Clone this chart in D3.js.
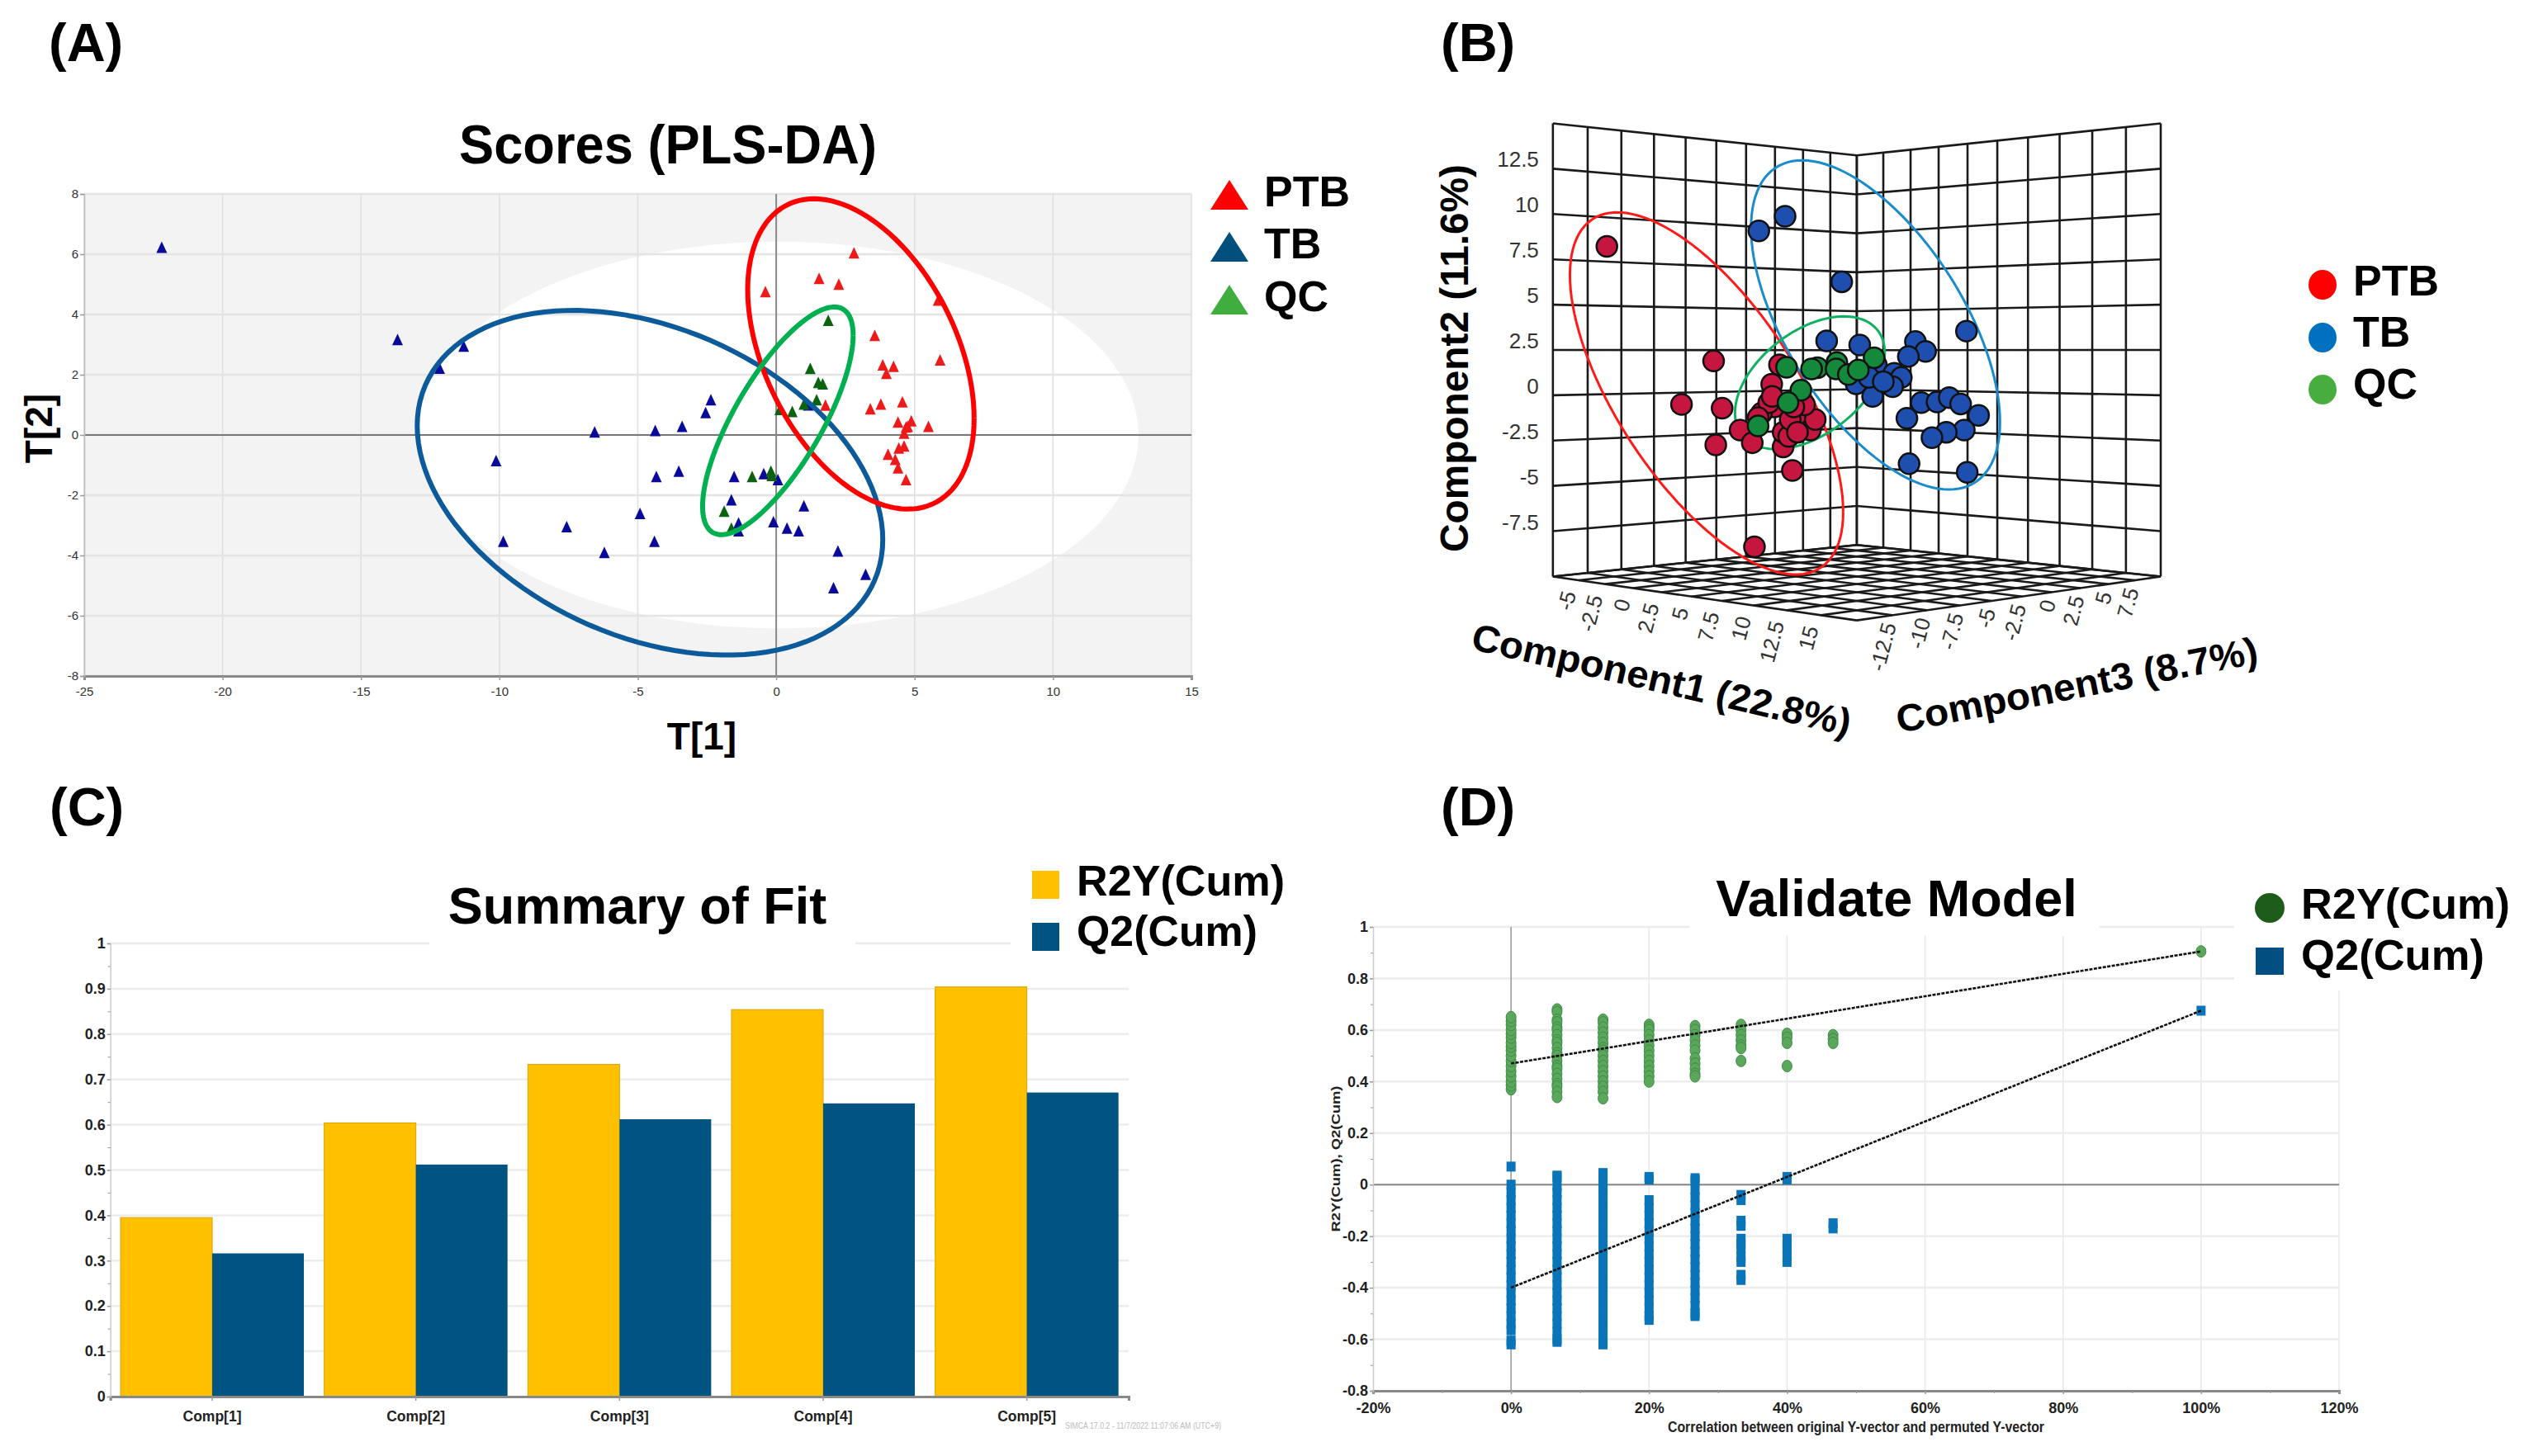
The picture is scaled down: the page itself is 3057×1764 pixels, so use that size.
<!DOCTYPE html>
<html><head><meta charset="utf-8">
<script src="https://cdn.jsdelivr.net/npm/d3@7"></script>
<style>html,body{margin:0;padding:0;background:#fff}svg{display:block}text{font-family:"Liberation Sans",Arial,sans-serif}</style>
</head><body><svg id="c" width="3057" height="1764"></svg>
<script>
// ---------- Panel A data (T[1], T[2]) ----------
const scoresTB = [[-22.2,6.23],[-13.68,3.17],[-11.29,2.95],[-12.16,2.22],[-2.36,1.17],[-2.55,.75],[-6.56,.1],[-4.37,.15],[-3.4,.29],[-10.12,-.85],[-3.52,-1.2],[-4.33,-1.38],[-1.52,-1.38],[-.45,-1.28],[.06,-1.48],[-1.62,-2.15],[1,-2.35],[-4.92,-2.6],[-7.57,-3.04],[-9.86,-3.53],[-4.4,-3.53],[-6.21,-3.9],[-1.36,-2.92],[-1.36,-3.18],[-.1,-2.88],[.39,-3.09],[.81,-3.18],[2.23,-3.85],[3.23,-4.62],[2.07,-5.07],[1.16,1]];
const scoresPTB = [[2.81,6.05],[1.55,5.2],[2.26,5.01],[-.39,4.76],[5.85,4.48],[3.56,3.31],[5.92,2.49],[3.85,2.33],[4.24,2.28],[3.98,2.05],[4.56,1.1],[3.78,1.03],[1.78,.99],[3.4,.87],[4.4,.43],[4.88,.47],[5.5,.29],[4.75,.29],[4.62,.06],[4.62,-.36],[4.43,-.43],[4.04,-.64],[4.3,-.81],[4.4,-1.09],[4.69,-1.48],[4.69,.27]];
const scoresQC = [[1.88,3.81],[1.23,2.21],[1.52,1.75],[1.68,1.7],[1.46,1.17],[1,1.03],[.13,.85],[.58,.78],[-.19,-1.2],[-.16,-1.34],[-.87,-1.38],[-1.88,-2.53],[-1.62,-3.09]];
// ellipses: centre x, centre y, half width, half height, correlation
const ellipseHotelling = [0.06,0,13.03,6.42,0];
const ellipseA_PTB = [3.06,2.69,4.09,5.15,-.415];
const ellipseA_TB = [-4.56,-1.585,8.41,5.72,-.33];
const ellipseA_QC = [.06,.47,2.72,3.78,.75];
const xTicksA = [-25,-20,-15,-10,-5,0,5,10,15];
const yTicksA = [-8,-6,-4,-2,0,2,4,6,8];
const legendLabels = ["PTB","TB","QC"];

// ---------- Panel B data (Component1, Component2, Component3) ----------
const plsPTB = [[-5.28,8.21,-12.78],[-.89,1.89,-8.39],[-2.21,-.51,-9.71],[-.54,-.71,-8.04],[-.8,-2.74,-8.3],[.79,-8.36,-6.71],[2.35,-4.15,-5.15],[.2,-1.92,-7.3],[.7,-2.62,-6.8],[1.97,-2.85,-5.53],[1.82,1.68,-5.68],[1.5,.61,-6],[1.61,-.64,-5.89],[1.08,-.99,-6.42],[1.38,-.41,-6.12],[.94,-1.23,-6.56],[1.97,-2.04,-5.53],[2.2,-2.27,-5.3],[2.7,-1.46,-4.8],[2.26,-1.34,-5.24],[3.09,-1.92,-4.41],[3.29,-1.34,-4.21],[2.85,-.53,-4.65],[1.52,-.06,-5.98],[2.41,-.64,-5.09],[2.56,-2.04,-4.94]];
const plsTB = [[2.05,9.88,-5.45],[.97,9.07,-6.53],[4.38,6.26,-3.12],[9.51,3.54,2.01],[3.76,3,-3.74],[5.12,2.77,-2.38],[7.41,2.96,-.09],[7.83,2.42,.33],[7.12,2.14,-.38],[5.8,1.68,-1.7],[6.53,1.21,-.97],[6.83,.98,-.67],[6.47,.47,-1.03],[4.97,.63,-2.53],[5.65,-.06,-1.85],[7.65,-.41,.15],[8.3,-.37,.8],[8.8,-.13,1.3],[9.27,-.48,1.77],[10.01,-1.11,2.51],[7.06,-1.27,-.44],[9.42,-1.92,1.92],[8.68,-2.04,1.18],[8.09,-2.34,.59],[7.15,-3.78,-.35],[9.54,-4.25,2.04],[5.5,.98,-2],[6.09,.75,-1.41]];
const plsQC = [[2.11,1.54,-5.39],[3.38,1.52,-4.12],[4.18,1.8,-3.32],[4.15,1.45,-3.35],[4.65,1.14,-2.85],[5.71,2.07,-1.79],[5.06,1.4,-2.44],[2.7,.28,-4.8],[2.17,-.41,-5.33],[.94,-1.69,-6.56],[3.14,1.45,-4.36]];
// ellipses in the plane Component3 = Component1 - 7.5
const ellipseB_PTB = [-1.18,.1,5.62,9.99,-.654];
const ellipseB_TB = [5.77,3.88,5.12,9.08,-.59];
const ellipseB_QC = [3.07,.69,3.08,3.66,.455];
const gridC1 = [-7.5,-5,-2.5,0,2.5,5,7.5,10,12.5,15,17.5];
const gridC2 = [-10,-7.5,-5,-2.5,0,2.5,5,7.5,10,12.5,15];
const gridC3 = [-15,-12.5,-10,-7.5,-5,-2.5,0,2.5,5,7.5,10];
const labelC1 = [-5,-2.5,0,2.5,5,7.5,10,12.5,15];
const labelC2 = [-7.5,-5,-2.5,0,2.5,5,7.5,10,12.5];
const labelC3 = [-12.5,-10,-7.5,-5,-2.5,0,2.5,5,7.5];

// ---------- Panel C data ----------
const comps = ["Comp[1]","Comp[2]","Comp[3]","Comp[4]","Comp[5]"];
const r2yCum = [.395,.604,.733,.854,.904];
const q2Cum = [.316,.512,.612,.647,.671];
const yTicksC = [0,.1,.2,.3,.4,.5,.6,.7,.8,.9,1];
const yMinorC = [.05,.15,.25,.35,.45,.55,.65,.75,.85,.95];

// ---------- Panel D data (permutation correlation %, value lists) ----------
const permX = [0,6.67,13.33,20,26.67,33.33,40,46.67,100];
const permR2 = [
 [.37,.385,.40,.42,.44,.46,.48,.50,.52,.535,.55,.57,.585,.60,.62,.635,.65],
 [.68,.67,.64,.63,.61,.60,.58,.56,.55,.53,.51,.50,.48,.46,.45,.43,.41,.39,.38,.36,.34],
 [.64,.63,.61,.59,.57,.55,.53,.52,.50,.48,.46,.44,.42,.40,.38,.36,.335],
 [.62,.61,.60,.58,.56,.54,.52,.50,.48,.46,.44,.42,.40],
 [.615,.60,.58,.56,.54,.52,.49,.47,.45,.43,.42],
 [.62,.60,.58,.56,.54,.53,.48],
 [.585,.57,.55,.46],
 [.58,.565,.55],
 [.905]];
const permQ2 = [
 [.07,0,-.03,-.06,-.09,-.12,-.15,-.18,-.21,-.24,-.27,-.30,-.33,-.36,-.39,-.42,-.45,-.48,-.51,-.54,-.565,-.605,-.62],
 [.035,.03,-.005,-.03,-.06,-.09,-.12,-.15,-.18,-.21,-.24,-.27,-.30,-.33,-.36,-.39,-.42,-.45,-.48,-.51,-.54,-.57,-.6,-.61],
 [.045,.03,.01,-.015,-.04,-.07,-.10,-.13,-.16,-.19,-.22,-.25,-.28,-.31,-.34,-.37,-.40,-.43,-.46,-.49,-.52,-.55,-.58,-.61,-.62],
 [.03,.02,-.06,-.09,-.12,-.15,-.18,-.21,-.24,-.27,-.30,-.33,-.36,-.39,-.42,-.45,-.48,-.51,-.525],
 [.025,.015,-.02,-.05,-.08,-.11,-.14,-.17,-.20,-.23,-.26,-.29,-.32,-.35,-.38,-.41,-.44,-.47,-.50,-.51],
 [-.04,-.06,-.14,-.16,-.21,-.23,-.25,-.28,-.30,-.35,-.37],
 [.03,.02,-.21,-.23,-.25,-.28,-.30],
 [-.15,-.17],
 [.675]];
const trendR2X = [0,100], trendR2Y = [.47,.905];
const trendQ2X = [0,100], trendQ2Y = [-.40,.675];
const xTicksD = [-20,0,20,40,60,80,100,120];
const xMinorD = [-10,10,30,50,70,90,110];
const yTicksD = [-.8,-.6,-.4,-.2,0,.2,.4,.6,.8,1];
const yMinorD = [-.7,-.5,-.3,-.1,.1,.3,.5,.7,.9];

// ---------- helpers ----------
const svg = d3.select("#c");
svg.append("rect").attr("width",3057).attr("height",1764).attr("fill","#fff");
function txt(g,x,y,s,o={}){
  const t=g.append("text").attr("x",0).attr("y",0).text(s)
   .attr("transform",`translate(${x},${y}) rotate(${o.rot||0})`)
   .attr("font-size",o.fs||20).attr("font-weight",o.w||"bold")
   .attr("text-anchor",o.a||"start").attr("fill",o.c||"#000")
   .style("font-family",o.f||'"Liberation Sans",Arial,sans-serif');
  if(o.len) t.attr("textLength",o.len).attr("lengthAdjust","spacingAndGlyphs");
  return t;
}
const tees = d3.range(0,361,3).map(d=>d*Math.PI/180);
function ellipsePts(e){
  const [cx,cy,W,H,rho]=e, delta=Math.acos(rho);
  return tees.map(t=>[cx+W*Math.cos(t), cy+H*Math.cos(t-delta)]);
}
function styleAxis(ax,lineC,lineW,fs,w,color){
  ax.selectAll("path.domain").attr("stroke",lineC).attr("stroke-width",lineW);
  ax.selectAll(".tick line").attr("stroke","#999").attr("stroke-width",1.5);
  ax.selectAll("text").attr("font-size",fs).attr("font-weight",w).attr("fill",color)
    .style("font-family",'"Liberation Sans",Arial,sans-serif');
}
const letters=[["(A)",59,74],["(B)",1745,74],["(C)",60,1000],["(D)",1745,1000]];
letters.forEach(d=>txt(svg,d[1],d[2],d[0],{fs:65}));

// ---------- Panel A ----------
(function(){
  const g=svg.append("g");
  const x=d3.scaleLinear().domain([-25,15]).range([102,1443]);
  const y=d3.scaleLinear().domain([-8,8]).range([819,235]);
  g.append("rect").attr("x",x(-25)).attr("y",y(8)).attr("width",x(15)-x(-25)).attr("height",y(-8)-y(8)).attr("fill","#f3f3f3");
  const e=d3.line().x(d=>x(d[0])).y(d=>y(d[1]));
  g.append("path").attr("d",e(ellipsePts(ellipseHotelling))).attr("fill","#fff");
  g.selectAll(".gx").data(xTicksA).join("line").attr("x1",d=>x(d)).attr("x2",d=>x(d)).attr("y1",y(8)).attr("y2",y(-8)).attr("stroke","#dedede").attr("stroke-width",1.5);
  g.selectAll(".gy").data(yTicksA).join("line").attr("y1",d=>y(d)).attr("y2",d=>y(d)).attr("x1",x(-25)).attr("x2",x(15)).attr("stroke","#e4e4e4").attr("stroke-width",2.5);
  g.append("line").attr("x1",x(-25)).attr("x2",x(15)).attr("y1",y(0)).attr("y2",y(0)).attr("stroke","#777").attr("stroke-width",2);
  g.append("line").attr("x1",x(0)).attr("x2",x(0)).attr("y1",y(8)).attr("y2",y(-8)).attr("stroke","#888").attr("stroke-width",2);
  const ax=g.append("g").attr("transform",`translate(0,${y(-8)})`).call(d3.axisBottom(x).tickValues(xTicksA).tickFormat(String).tickSize(5).tickPadding(8));
  styleAxis(ax,"#888",3,15,"normal","#333");
  const ay=g.append("g").attr("transform",`translate(${x(-25)},0)`).call(d3.axisLeft(y).tickValues(yTicksA).tickFormat(String).tickSize(5).tickPadding(2));
  styleAxis(ay,"#bbb",1.5,15,"normal","#333");
  const tri=(w,h)=>`M0,${-h/2}L${w/2},${h/2}L${-w/2},${h/2}Z`;
  const pts=(data,c)=>g.selectAll(null).data(data).join("path").attr("d",tri(13,14)).attr("fill",c).attr("transform",d=>`translate(${x(d[0])},${y(d[1])})`);
  pts(scoresTB,"#0a0a9a"); pts(scoresPTB,"#ee1a1a"); pts(scoresQC,"#0b620f");
  [[ellipseA_TB,"#0c5a9a"],[ellipseA_PTB,"#ff0000"],[ellipseA_QC,"#00b050"]].forEach(d=>{
    g.append("path").attr("d",e(ellipsePts(d[0]))).attr("fill","none").attr("stroke",d[1]).attr("stroke-width",6);
  });
  txt(g,809,198,"Scores (PLS-DA)",{fs:66,a:"middle",len:506});
  txt(g,850,908,"T[1]",{fs:46,a:"middle"});
  txt(g,63,519,"T[2]",{fs:46,a:"middle",rot:-90});
  const cols=["#ff0000","#004f7c","#3fae3f"], ly=[236,299,363], by=[250,313,377];
  legendLabels.forEach((l,i)=>{
    g.append("path").attr("d",tri(46,36)).attr("fill",cols[i]).attr("transform",`translate(1489,${ly[i]})`);
    txt(g,1531,by[i],l,{fs:52});
  });
})();

// ---------- Panel B ----------
(function(){
  const g=svg.append("g");
  const U=d3.scaleLinear().domain([10,-15]).range([0,1]);
  const V=d3.scaleLinear().domain([-7.5,17.5]).range([0,1]);
  const H=d3.scaleLinear().domain([-10,15]).range([0,1]);
  const sx=d3.scaleLinear().domain([0,1155]).range([1700,2700]);
  const sy=d3.scaleLinear().domain([0,1960]).range([100,1100]);
  function P(c1,c2,c3){
    const u=U(c3),v=V(c1),h=H(c2),w=1-.1403*(u+v);
    return [sx(634+365.5*(v-u)/w), sy((1098-89.6*(u+v)-925*h)/w)];
  }
  const seg=(a,b)=>g.append("line").attr("x1",a[0]).attr("y1",a[1]).attr("x2",b[0]).attr("y2",b[1]).attr("stroke","#1a1a1a").attr("stroke-width",2.6);
  gridC3.forEach(c=>{ seg(P(-7.5,-10,c),P(-7.5,15,c)); seg(P(-7.5,-10,c),P(17.5,-10,c)); });
  gridC1.forEach(c=>{ seg(P(c,-10,10),P(c,15,10)); seg(P(c,-10,-15),P(c,-10,10)); });
  gridC2.forEach(c=>{ seg(P(-7.5,c,-15),P(-7.5,c,10)); seg(P(-7.5,c,10),P(17.5,c,10)); });
  labelC2.forEach(c=>{const p=P(-7.5,c,-15); txt(g,p[0]-17,p[1]-2,String(c),{fs:26,w:"normal",a:"end",c:"#333"});});
  labelC1.forEach(c=>{const p=P(c,-10,-15); txt(g,p[0]-3,p[1]+16,String(c),{fs:26,w:"normal",a:"end",rot:-75,c:"#333"});});
  labelC3.forEach(c=>{const p=P(17.5,-10,c); txt(g,p[0]+5,p[1]+12,String(c),{fs:26,w:"normal",a:"end",rot:-75,c:"#333"});});
  const el=d3.line().x(d=>P(d[0],d[1],d[0]-7.5)[0]).y(d=>P(d[0],d[1],d[0]-7.5)[1]);
  [[ellipseB_PTB,"#ff1a1a"],[ellipseB_TB,"#1a8ccc"],[ellipseB_QC,"#10b060"]].forEach(d=>{
    g.append("path").attr("d",el(ellipsePts(d[0]))).attr("fill","none").attr("stroke",d[1]).attr("stroke-width",3);
  });
  const dots=(data,c)=>g.selectAll(null).data(data).join("circle")
    .attr("cx",d=>P(d[0],d[1],d[2])[0]).attr("cy",d=>P(d[0],d[1],d[2])[1]).attr("r",12.5)
    .attr("fill",c).attr("stroke","#111").attr("stroke-width",2.5);
  dots(plsTB,"#1f4fae"); dots(plsPTB,"#c5163f"); dots(plsQC,"#14893c");
  txt(g,1778,434,"Component2 (11.6%)",{fs:48,a:"middle",rot:-90,len:470});
  txt(g,1780,786,"Component1 (22.8%)",{fs:46,rot:13,len:470});
  txt(g,2300,888,"Component3 (8.7%)",{fs:46,rot:-11,len:445});
  const cols=["#ff0000","#0070c0","#46ad3e"], ly=[345,409,472], by=[358,420,483];
  legendLabels.forEach((l,i)=>{
    g.append("ellipse").attr("cx",2813).attr("cy",ly[i]).attr("rx",17).attr("ry",18).attr("fill",cols[i]);
    txt(g,2850,by[i],l,{fs:52});
  });
})();

// ---------- Panel C ----------
(function(){
  const g=svg.append("g");
  const x=d3.scaleBand().domain(comps).range([133.7,1367]);
  const bw=x.bandwidth()*.45;
  const y=d3.scaleLinear().domain([0,1]).range([1692,1143]);
  g.selectAll(".gy").data(yTicksC.slice(1)).join("line").attr("x1",x.range()[0]).attr("x2",x.range()[1]).attr("y1",d=>y(d)).attr("y2",d=>y(d)).attr("stroke","#ececec").attr("stroke-width",2.5);
  g.append("rect").attr("x",520).attr("y",1040).attr("width",516).attr("height",108).attr("fill","#fff");
  g.append("rect").attr("x",1224).attr("y",1040).attr("width",280).attr("height",112).attr("fill","#fff");
  g.selectAll(".r2").data(comps).join("rect").attr("x",d=>x(d)+x.bandwidth()/2-bw).attr("width",bw)
    .attr("y",(d,i)=>y(r2yCum[i])).attr("height",(d,i)=>y(0)-y(r2yCum[i])).attr("fill","#ffc000").attr("stroke","#d8a200").attr("stroke-width",1);
  g.selectAll(".q2").data(comps).join("rect").attr("x",d=>x(d)+x.bandwidth()/2).attr("width",bw)
    .attr("y",(d,i)=>y(q2Cum[i])).attr("height",(d,i)=>y(0)-y(q2Cum[i])).attr("fill","#015482");
  const ax=g.append("g").attr("transform",`translate(0,${y(0)})`).call(d3.axisBottom(x).tickSize(5).tickPadding(13));
  styleAxis(ax,"#888",3,17.5,"bold","#222");
  const ay=g.append("g").attr("transform",`translate(${x.range()[0]},0)`).call(d3.axisLeft(y).tickValues(yTicksC).tickFormat(d=>String(d)).tickSize(4).tickPadding(2));
  styleAxis(ay,"#ccc",1.5,18,"bold","#222");
  g.append("g").attr("transform",`translate(${x.range()[0]},0)`).call(d3.axisLeft(y).tickValues(yMinorC).tickFormat("").tickSize(3))
    .call(a=>{a.select(".domain").remove();a.selectAll("line").attr("stroke","#999");});
  txt(g,1290,1731,"SIMCA 17.0.2 - 11/7/2022 11:07:06 AM (UTC+9)",{fs:11,w:"normal",c:"#bbb",len:189});
  txt(g,772,1119,"Summary of Fit",{fs:63,a:"middle"});
  g.append("rect").attr("x",1250).attr("y",1055).attr("width",33).attr("height",34).attr("fill","#ffc000");
  g.append("rect").attr("x",1250).attr("y",1118).attr("width",33).attr("height",34).attr("fill","#015482");
  txt(g,1304,1085,"R2Y(Cum)",{fs:52,len:252});
  txt(g,1304,1146,"Q2(Cum)",{fs:52,len:219});
})();

// ---------- Panel D ----------
(function(){
  const g=svg.append("g");
  const x=d3.scaleLinear().domain([-20,120]).range([1663,2833]);
  const y=d3.scaleLinear().domain([-.8,1]).range([1685,1123]);
  g.selectAll(".gx").data(xTicksD.slice(1)).join("line").attr("x1",d=>x(d)).attr("x2",d=>x(d)).attr("y1",y(1)).attr("y2",y(-.8)).attr("stroke","#e8e8e8").attr("stroke-width",1.5);
  g.selectAll(".gy").data(yTicksD.slice(1)).join("line").attr("x1",x(-20)).attr("x2",x(120)).attr("y1",d=>y(d)).attr("y2",d=>y(d)).attr("stroke","#ececec").attr("stroke-width",2.5);
  g.append("rect").attr("x",2046).attr("y",1040).attr("width",497).attr("height",94).attr("fill","#fff");
  g.append("rect").attr("x",2706).attr("y",1040).attr("width",340).attr("height",160).attr("fill","#fff");
  g.append("line").attr("x1",x(0)).attr("x2",x(0)).attr("y1",y(1)).attr("y2",y(-.8)).attr("stroke","#999").attr("stroke-width",1.5);
  g.append("line").attr("x1",x(-20)).attr("x2",x(120)).attr("y1",y(0)).attr("y2",y(0)).attr("stroke","#888").attr("stroke-width",2);
  const ax=g.append("g").attr("transform",`translate(0,${y(-.8)})`).call(d3.axisBottom(x).tickValues(xTicksD).tickFormat(d=>d+"%").tickSize(4).tickPadding(10));
  styleAxis(ax,"#888",3,18,"bold","#222");
  const ay=g.append("g").attr("transform",`translate(${x(-20)},0)`).call(d3.axisLeft(y).tickValues(yTicksD).tickFormat(d=>String(d)).tickSize(4).tickPadding(2));
  styleAxis(ay,"#ccc",1.5,18,"bold","#222");
  g.append("g").attr("transform",`translate(${x(-20)},0)`).call(d3.axisLeft(y).tickValues(yMinorD).tickFormat("").tickSize(3))
    .call(a=>{a.select(".domain").remove();a.selectAll("line").attr("stroke","#999");});
  g.append("g").attr("transform",`translate(0,${y(-.8)})`).call(d3.axisBottom(x).tickValues(xMinorD).tickFormat("").tickSize(3))
    .call(a=>{a.select(".domain").remove();a.selectAll("line").attr("stroke","#999");});
  permX.forEach((px,i)=>{
    g.selectAll(null).data(permR2[i]).join("ellipse").attr("cx",x(px)).attr("cy",d=>y(d)).attr("rx",6).attr("ry",7)
      .attr("fill","#5ba85c").attr("stroke","#3b8b45").attr("stroke-width",1);
    g.selectAll(null).data(permQ2[i]).join("rect").attr("x",x(px)-5.5).attr("width",11).attr("y",d=>y(d)-6).attr("height",12)
      .attr("fill","#0a74b8");
  });
  const tl=(xs,ys)=>g.append("line").attr("x1",x(xs[0])).attr("x2",x(xs[1])).attr("y1",y(ys[0])).attr("y2",y(ys[1])).attr("stroke","#111").attr("stroke-width",2.6).attr("stroke-dasharray","4 1.5");
  tl(trendR2X,trendR2Y); tl(trendQ2X,trendQ2Y);
  txt(g,2248,1735,"Correlation between original Y-vector and permuted Y-vector",{fs:18,a:"middle",len:456,c:"#222"});
  txt(g,1623,1404,"R2Y(Cum), Q2(Cum)",{fs:14,a:"middle",rot:-90,len:177,c:"#222"});
  txt(g,2297,1110,"Validate Model",{fs:63,a:"middle"});
  g.append("ellipse").attr("cx",2749).attr("cy",1100).attr("rx",18).attr("ry",18).attr("fill","#1e5c1a");
  g.append("rect").attr("x",2732).attr("y",1148).attr("width",34).attr("height",33).attr("fill","#014f80");
  txt(g,2787,1113,"R2Y(Cum)",{fs:52,len:253});
  txt(g,2787,1175,"Q2(Cum)",{fs:52,len:222});
})();
</script></body></html>
